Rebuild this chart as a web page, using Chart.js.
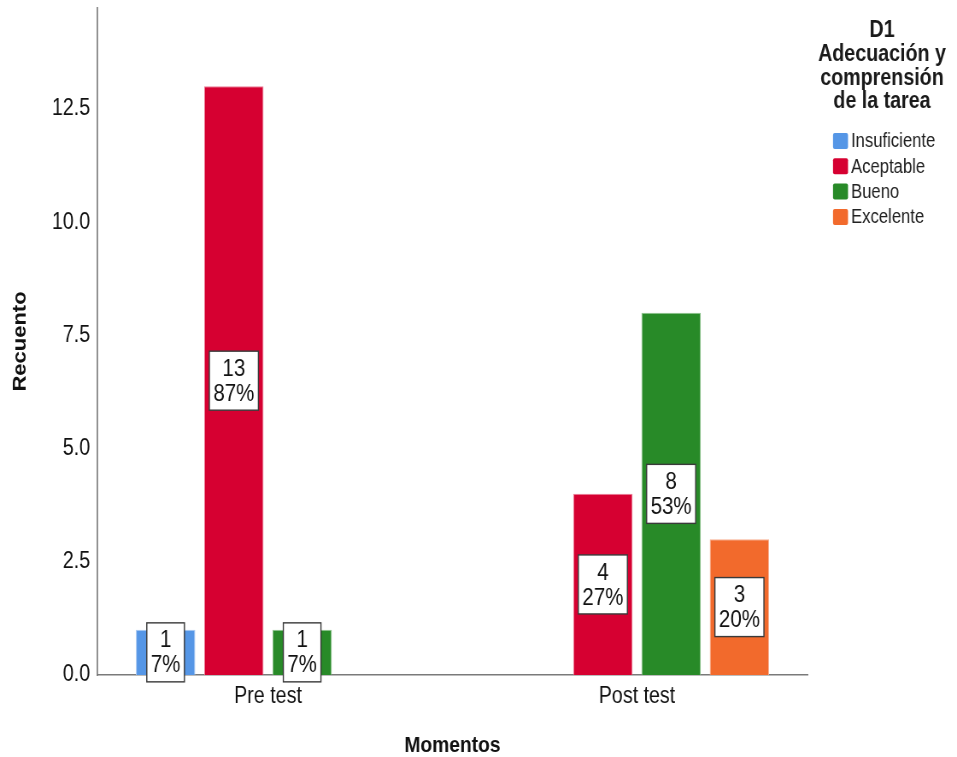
<!DOCTYPE html>
<html>
<head>
<meta charset="utf-8">
<script src="https://cdn.jsdelivr.net/npm/chart.js@4.4.1/dist/chart.umd.min.js"></script>
<style>
  html, body { margin: 0; padding: 0; background: #fff; overflow: hidden; }
</style>
</head>
<body>
<!-- el original esta estirado en vertical: se dibuja mas ancho y se comprime a 957px -->
<canvas id="grafico" width="1120" height="757" style="width:957px;height:757px;display:block"></canvas>
<script>
// datos
const momentos = ['Pre test', 'Post test'];
const niveles = ['Insuficiente', 'Aceptable', 'Bueno', 'Excelente'];
const insuficiente = [1, null];
const aceptable = [13, 4];
const bueno = [1, 8];
const excelente = [null, 3];
const yTicks = [0, 2.5, 5, 7.5, 10, 12.5];
const tituloLeyenda = ['D1', 'Adecuación y', 'comprensión', 'de la tarea'];

const colores = ['#5596e6', '#d60031', '#288a28', '#f26a2c'];
const bordes = ['#a9c9f2', '#eb7f98', '#8fc48f', '#f8b092'];
const SANS = '"Liberation Sans", Arial, sans-serif';
const K = 1120 / 957; // factor horizontal del lienzo

const series = [insuficiente, aceptable, bueno, excelente];

// totales por momento para los porcentajes
const totales = momentos.map((m, i) => series.reduce((s, d) => s + (d[i] || 0), 0));

const datasets = niveles.map((n, k) => ({
  label: n,
  data: series[k].map((v, i) => ({ x: i, y: v })),
  backgroundColor: colores[k],
  borderColor: bordes[k],
  borderWidth: 1,
  categoryPercentage: 0.74,
  barPercentage: 0.87
}));

// etiquetas de valor (recuento + %) en cajas blancas
const etiquetas = {
  id: 'etiquetas',
  afterDatasetsDraw(chart) {
    const ctx = chart.ctx;
    ctx.save();
    ctx.font = '24px ' + SANS;
    ctx.textAlign = 'center';
    ctx.textBaseline = 'middle';
    chart.data.datasets.forEach((ds, k) => {
      const meta = chart.getDatasetMeta(k);
      meta.data.forEach((bar, i) => {
        const v = series[k][i];
        if (v === null) return;
        const lineas = [String(v), Math.round(v / totales[i] * 100) + '%'];
        const w = Math.max(...lineas.map(t => ctx.measureText(t).width)) + 8 * K;
        const lh = 25;
        const h = lh * 2 + 9;
        const cx = bar.x;
        const cy = (bar.y + bar.base) / 2;
        ctx.fillStyle = '#ffffff';
        ctx.fillRect(cx - w / 2, cy - h / 2, w, h);
        ctx.strokeStyle = '#3a3a3a';
        ctx.lineWidth = 1.4;
        ctx.strokeRect(cx - w / 2, cy - h / 2, w, h);
        ctx.fillStyle = '#111';
        ctx.fillText(lineas[0], cx, cy - lh / 2 + 1);
        ctx.fillText(lineas[1], cx, cy + lh / 2 + 1);
      });
    });
    ctx.restore();
  }
};

// leyenda al estilo SPSS
const leyenda = {
  id: 'leyenda',
  afterDraw(chart) {
    const ctx = chart.ctx;
    const x0 = chart.chartArea.right + 25 * K;
    ctx.save();
    ctx.fillStyle = '#1a1a1a';
    ctx.textAlign = 'center';
    ctx.textBaseline = 'middle';
    ctx.font = 'bold 23px ' + SANS;
    tituloLeyenda.forEach((t, i) => ctx.fillText(t, x0 + 49 * K, 31 + i * 23.7));
    ctx.textAlign = 'left';
    ctx.font = '19.5px ' + SANS;
    chart.data.datasets.forEach((ds, i) => {
      const y = 141 + i * 25.3;
      ctx.fillStyle = ds.backgroundColor;
      ctx.beginPath();
      ctx.roundRect(x0, y - 8, 15 * K, 16, 2);
      ctx.fill();
      ctx.fillStyle = '#222';
      ctx.fillText(ds.label, x0 + 18 * K, y + 1);
    });
    ctx.restore();
  }
};

new Chart(document.getElementById('grafico'), {
  type: 'bar',
  data: { datasets: datasets },
  options: {
    responsive: false,
    animation: false,
    devicePixelRatio: 1,
    layout: { padding: { left: 0, right: 149 * K, top: 8, bottom: 0 } },
    plugins: {
      legend: { display: false },
      tooltip: { enabled: false }
    },
    scales: {
      x: {
        type: 'linear',
        offset: false,
        min: -0.4634,
        max: 1.4634,
        afterBuildTicks: s => { s.ticks = momentos.map((m, i) => ({ value: i })); },
        afterFit: s => { s.height = 82; s.paddingLeft = 0; s.paddingRight = 0; },
        grid: { display: false, drawTicks: false },
        border: { display: true, color: '#7a7a7a', width: 1.5 },
        ticks: {
          callback: v => momentos[v],
          color: '#111',
          padding: 8,
          maxRotation: 0,
          autoSkip: false,
          font: { family: SANS, size: 23 }
        },
        title: {
          display: true,
          text: 'Momentos',
          color: '#111',
          padding: { top: 0, bottom: 0 },
          font: { family: SANS, size: 22.5, weight: 'bold', lineHeight: 1 }
        }
      },
      y: {
        min: 0,
        max: 14.73,
        afterBuildTicks: s => { s.ticks = yTicks.map(v => ({ value: v })); },
        afterFit: s => { s.width = 97 * K; s.paddingTop = 0; s.paddingBottom = 0; },
        grid: { display: false, drawTicks: false },
        border: { display: true, color: '#7a7a7a', width: 1.7 },
        ticks: {
          callback: v => v.toFixed(1),
          color: '#111',
          padding: 8,
          font: { family: SANS, size: 23 }
        },
        title: {
          display: true,
          text: 'Recuento',
          color: '#111',
          padding: { top: 11, bottom: 0 },
          font: { family: SANS, size: 22, weight: 'bold' }
        }
      }
    }
  },
  plugins: [etiquetas, leyenda]
});
</script>
</body>
</html>
